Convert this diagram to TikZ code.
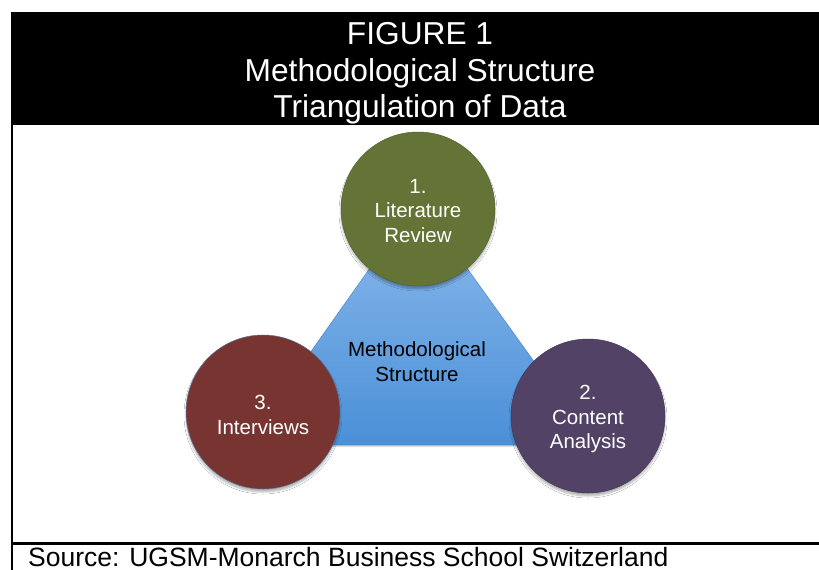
\documentclass[tikz,border=0pt]{standalone}
\usepackage{fontspec}
\setmainfont{Liberation Sans}
\usetikzlibrary{shadows.blur}
\definecolor{litgreen}{HTML}{637436}
\definecolor{intred}{HTML}{773431}
\definecolor{conpurple}{HTML}{524266}
\definecolor{tritop}{HTML}{8FBCEE}
\definecolor{tribot}{HTML}{4A8FD7}
\definecolor{triedge}{HTML}{4C88CC}
\begin{document}
\begin{tikzpicture}[x=1pt,y=-1pt,
  stage/.style={circle, minimum size=154pt, inner sep=0pt, line width=0.5pt,
    blur shadow={shadow xshift=0pt, shadow yshift=-3pt, shadow blur steps=5,
      shadow opacity=30, shadow blur radius=2pt}},
  stagetext/.style={align=center, text=white, inner sep=0pt,
    font=\fontsize{20.5}{24.5}\selectfont},
  header/.style={align=center, text=white, font=\fontsize{31.7}{36.5}\selectfont},
  core/.style={align=center, text=black, font=\fontsize{20.5}{24.5}\selectfont},
  source/.style={anchor=base west, inner sep=0pt, font=\fontsize{26.5}{30}\selectfont}]
  \useasboundingbox (0,0) rectangle (819,570);
  \fill[white] (0,0) rectangle (819,570);

  % title band
  \fill[black] (11,12) rectangle (819,125);
  \node[header] (title) at (420,73.5) {FIGURE 1\\Methodological Structure\\Triangulation of Data};

  % frame: left rule and the rule above the source line
  \draw[line width=2pt] (12,125) -- (12,570);
  \draw[line width=3pt] (11,543.5) -- (819,543.5);

  % central triangle
  \coordinate (apex) at (418,200);
  \coordinate (bl) at (245,445);
  \coordinate (br) at (594,445);
  \fill[black, opacity=0.12] ([yshift=-2pt]apex) -- ([yshift=-2pt]bl) -- ([yshift=-2pt]br) -- cycle;
  \shade[top color=tritop, bottom color=tribot, draw=triedge, line width=0.5pt]
    (apex) -- (bl) -- (br) -- cycle;
  \node[core] (centre) at (417,361.5) {Methodological\\Structure};

  % the three methods
  \node[stage, fill=litgreen, draw=litgreen!85!black] (lit) at (418,209) {};
  \node[stage, fill=conpurple, draw=conpurple!85!black] (con) at (588,416) {};
  \node[stage, fill=intred, draw=triedge!70!intred] (int) at (263,412) {};
  \node[stagetext, yshift=-2pt] (littext) at (lit) {1.\\Literature\\Review};
  \node[stagetext, yshift=-3pt] (context) at (con) {2.\\Content\\Analysis};
  \node[stagetext, yshift=-3pt] (inttext) at (int) {3.\\Interviews};

  % source line
  \node[source] (src) at (28,566.5) {Source: UGSM-Monarch Business School Switzerland};
\end{tikzpicture}
\end{document}
